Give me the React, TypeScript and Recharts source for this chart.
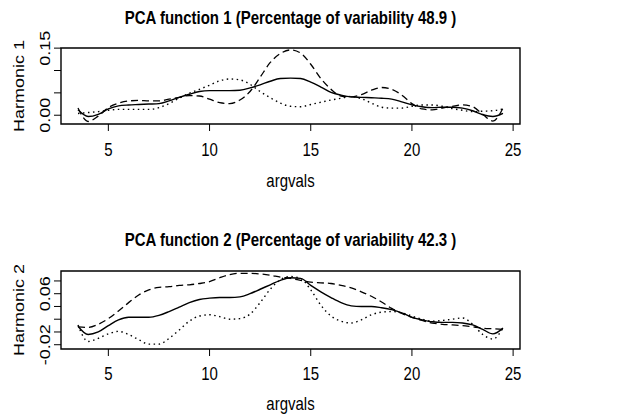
import { LineChart, Line, XAxis, YAxis, ReferenceArea } from 'recharts';

const argvals = [
  3.5, 4, 4.5, 5, 5.5, 6, 6.5, 7, 7.5, 8, 8.5, 9, 9.5, 10, 10.5, 11, 11.5, 12, 12.5, 13, 13.5,
  14, 14.5, 15, 15.5, 16, 16.5, 17, 17.5, 18, 18.5, 19, 19.5, 20, 20.5, 21, 21.5, 22, 22.5, 23,
  23.5, 24, 24.5
];

// harmonic 1
const h1Solid = [
  0.012, -0.003, 0.002, 0.014, 0.021, 0.023, 0.024, 0.025, 0.026, 0.032, 0.04, 0.047, 0.053,
  0.055, 0.055, 0.055, 0.056, 0.061, 0.068, 0.076, 0.082, 0.083, 0.082, 0.074, 0.063, 0.051,
  0.045, 0.041, 0.04, 0.039, 0.038, 0.036, 0.03, 0.023, 0.019, 0.017, 0.018, 0.018, 0.016,
  0.01, 0.001, -0.003, 0.004
];
const h1Dashed = [
  0.016, -0.014, -0.002, 0.017, 0.027, 0.032, 0.033, 0.032, 0.032, 0.036, 0.04, 0.044, 0.043,
  0.036, 0.028, 0.026, 0.034, 0.053, 0.085, 0.118, 0.138, 0.146, 0.139, 0.114, 0.082, 0.058,
  0.043, 0.041, 0.046, 0.056, 0.062, 0.058, 0.045, 0.026, 0.014, 0.012, 0.016, 0.02, 0.023,
  0.019, 0.002, -0.013, 0.016
];
const h1Dotted = [
  0.004, 0.006, 0.008, 0.011, 0.013, 0.013, 0.013, 0.013, 0.017, 0.026, 0.038, 0.049, 0.058,
  0.067, 0.077, 0.081, 0.079, 0.069, 0.053, 0.039, 0.027, 0.02, 0.019, 0.024, 0.029, 0.034,
  0.038, 0.042, 0.037, 0.027, 0.018, 0.016, 0.016, 0.02, 0.023, 0.023, 0.02, 0.015, 0.011,
  0.008, 0.009, 0.01, 0.014
];

// harmonic 2
const h2Solid = [
  0.009, -0.004, 0.0, 0.01, 0.019, 0.023, 0.023, 0.023, 0.026, 0.032, 0.039, 0.046, 0.051,
  0.053, 0.054, 0.054, 0.055, 0.06, 0.067, 0.074, 0.081, 0.085, 0.084, 0.073, 0.063, 0.054,
  0.046, 0.041, 0.04, 0.04, 0.038, 0.035, 0.03, 0.023, 0.019, 0.016, 0.015, 0.015, 0.014,
  0.011, 0.004, -0.003, 0.006
];
const h2Dashed = [
  0.008, 0.007, 0.012, 0.021, 0.033, 0.046, 0.058, 0.066, 0.07, 0.071, 0.073, 0.074, 0.076,
  0.079, 0.085, 0.09, 0.092, 0.092, 0.091, 0.089, 0.086, 0.084, 0.081, 0.078, 0.077, 0.076,
  0.073, 0.069, 0.063, 0.056, 0.047, 0.037, 0.029, 0.023, 0.018, 0.014, 0.012, 0.011, 0.01,
  0.008, 0.006, 0.005, 0.004
];
const h2Dotted = [
  0.011, -0.015, -0.01, -0.003, 0.001, -0.004, -0.012, -0.019, -0.019, -0.01, 0.003, 0.017,
  0.025, 0.027, 0.024, 0.02, 0.021, 0.028, 0.046, 0.067, 0.082, 0.087, 0.084, 0.066, 0.042,
  0.025, 0.017, 0.014, 0.019, 0.027, 0.031, 0.032, 0.03, 0.025, 0.02, 0.017, 0.018, 0.02,
  0.022, 0.012, -0.004, -0.011, 0.006
];

const xTicks = [5, 10, 15, 20, 25];
const h1Ticks = [0, 0.05, 0.1, 0.15];
const h1Labelled = [0, 0.15];
const h2Ticks = [-0.02, 0, 0.02, 0.04, 0.06, 0.08];
const h2Labelled = [-0.02, 0.06];

const FONT = '"Liberation Sans", Arial, Helvetica, sans-serif';
const X_DOMAIN: [number, number] = [2.66, 25.34];
// the picture is a bit taller than wide, text included
const STRETCH = 1.2;

function makeRows(s: number[], d: number[], t: number[]) {
  return argvals.map((x, i) => ({ x, solid: s[i], dashed: d[i], dotted: t[i] }));
}

function TallText({ x, y, vertical, bold, size = 15, children }: any) {
  const rot = vertical ? ' rotate(-90)' : '';
  return (
    <text
      x={0}
      y={0}
      transform={`translate(${x} ${y}) scale(1 ${STRETCH})${rot}`}
      textAnchor="middle"
      fontSize={size}
      fontWeight={bold ? 'bold' : 'normal'}
      fontFamily={FONT}
      fill="#000"
    >
      {children}
    </text>
  );
}

interface PanelProps {
  title: string;
  ylab: string;
  rows: Array<{ x: number; solid: number; dashed: number; dotted: number }>;
  yDomain: [number, number];
  yTicks: number[];
  yLabelled: number[];
  height: number;
  top: number;
  xAxisHeight: number;
  titleGap: number;
  tickDy: number;
  xlabDy: number;
}

function Panel(p: PanelProps) {
  const XTick = (props: any) => (
    <TallText x={props.x} y={props.y + p.tickDy}>
      {props.payload.value}
    </TallText>
  );

  const YTick = (props: any) => {
    const v = props.payload.value;
    if (!p.yLabelled.some((l) => Math.abs(l - v) < 1e-9)) return <g />;
    return (
      <TallText x={props.x - 4} y={props.y} vertical>
        {v.toFixed(2)}
      </TallText>
    );
  };

  return (
    <LineChart
      width={630}
      height={p.height}
      data={p.rows}
      margin={{ top: p.top, right: 110, bottom: 0, left: 0 }}
    >
      <XAxis
        dataKey="x"
        type="number"
        domain={X_DOMAIN}
        ticks={xTicks}
        interval={0}
        allowDataOverflow
        axisLine={false}
        tickLine={{ stroke: '#000', strokeWidth: 1 }}
        tickSize={7}
        tickMargin={0}
        height={p.xAxisHeight}
        tick={XTick}
        label={{
          content: (lp: any) => {
            const vb = lp.viewBox;
            return (
              <TallText x={vb.x + vb.width / 2} y={vb.y + p.xlabDy}>
                argvals
              </TallText>
            );
          }
        }}
      />
      <YAxis
        type="number"
        domain={p.yDomain}
        ticks={p.yTicks}
        interval={0}
        allowDataOverflow
        axisLine={false}
        tickLine={{ stroke: '#000', strokeWidth: 1 }}
        tickSize={7}
        tickMargin={0}
        width={61}
        tick={YTick}
        label={{
          content: (lp: any) => {
            const vb = lp.viewBox;
            return (
              <TallText x={24} y={vb.y + vb.height / 2} vertical>
                {p.ylab}
              </TallText>
            );
          }
        }}
      />
      <ReferenceArea
        x1={X_DOMAIN[0]}
        x2={X_DOMAIN[1]}
        y1={p.yDomain[0]}
        y2={p.yDomain[1]}
        fill="none"
        fillOpacity={0}
        stroke="#000"
        strokeWidth={1.4}
        ifOverflow="visible"
        label={{
          content: (lp: any) => {
            const vb = lp.viewBox;
            return (
              <TallText x={vb.x + vb.width / 2} y={vb.y - p.titleGap} bold>
                {p.title}
              </TallText>
            );
          }
        }}
      />
      <Line dataKey="dotted" type="monotone" stroke="#000" strokeWidth={1.4} strokeDasharray="1.5 3.5" dot={false} isAnimationActive={false} />
      <Line dataKey="dashed" type="monotone" stroke="#000" strokeWidth={1.3} strokeDasharray="7 4" dot={false} isAnimationActive={false} />
      <Line dataKey="solid" type="monotone" stroke="#000" strokeWidth={1.4} dot={false} isAnimationActive={false} />
    </LineChart>
  );
}

export default function App() {
  return (
    <div style={{ position: 'absolute', left: 0, top: 0, width: 630, height: 417, background: '#fff' }}>
      <Panel
        title="PCA function 1 (Percentage of variability 48.9 )"
        ylab="Harmonic 1"
        rows={makeRows(h1Solid, h1Dashed, h1Dotted)}
        yDomain={[-0.0196, 0.1503]}
        yTicks={h1Ticks}
        yLabelled={h1Labelled}
        height={208}
        top={48}
        xAxisHeight={84}
        titleGap={24}
        tickDy={24.5}
        xlabDy={63}
      />
      <Panel
        title="PCA function 2 (Percentage of variability 42.3 )"
        ylab="Harmonic 2"
        rows={makeRows(h2Solid, h2Dashed, h2Dotted)}
        yDomain={[-0.0267, 0.0956]}
        yTicks={h2Ticks}
        yLabelled={h2Labelled}
        height={209}
        top={63}
        xAxisHeight={68}
        titleGap={25}
        tickDy={24}
        xlabDy={61}
      />
    </div>
  );
}
